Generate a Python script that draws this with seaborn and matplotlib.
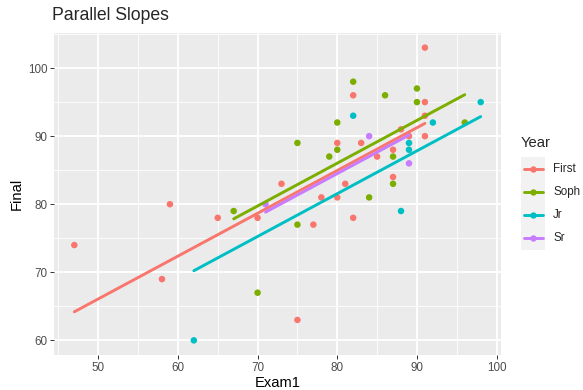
import numpy as np
import pandas as pd
import matplotlib
matplotlib.use("Agg")
import matplotlib.pyplot as plt
from matplotlib.ticker import MultipleLocator
from matplotlib.patches import Rectangle
import seaborn as sns

# data
first_exam1 = [47, 58, 59, 65, 70, 73, 75, 77, 78, 80, 80, 81, 82, 82, 83, 85, 87, 87, 88, 89, 91, 91, 91, 91]
first_final = [74, 69, 80, 78, 78, 83, 63, 77, 81, 81, 89, 83, 78, 96, 89, 87, 84, 88, 91, 90, 90, 93, 95, 103]
soph_exam1 = [67, 70, 75, 75, 79, 80, 80, 82, 84, 86, 87, 87, 90, 90, 96]
soph_final = [79, 67, 77, 89, 87, 88, 92, 98, 81, 96, 83, 87, 95, 97, 92]
jr_exam1 = [62, 82, 88, 89, 89, 92, 98]
jr_final = [60, 93, 79, 88, 89, 92, 95]
sr_exam1 = [71, 84, 89]
sr_final = [80, 90, 86]

years = ["First", "Soph", "Jr", "Sr"]
colors = ["#F8766D", "#7CAE00", "#00BFC4", "#C77CFF"]
palette = dict(zip(years, colors))

df = pd.concat([
    pd.DataFrame({"Exam1": first_exam1, "Final": first_final, "Year": "First"}),
    pd.DataFrame({"Exam1": soph_exam1, "Final": soph_final, "Year": "Soph"}),
    pd.DataFrame({"Exam1": jr_exam1, "Final": jr_final, "Year": "Jr"}),
    pd.DataFrame({"Exam1": sr_exam1, "Final": sr_final, "Year": "Sr"}),
], ignore_index=True)

# parallel slopes model: Final ~ Exam1 + Year
X = np.column_stack([df["Exam1"]] + [(df["Year"] == y).astype(float) for y in years])
coef = np.linalg.lstsq(X, df["Final"].to_numpy(float), rcond=None)[0]
fits = []
for i, y in enumerate(years):
    sub = df[df["Year"] == y]
    xs = np.array([sub["Exam1"].min(), sub["Exam1"].max()], dtype=float)
    fits.append(pd.DataFrame({"Exam1": xs, "Final": coef[0] * xs + coef[i + 1], "Year": y}))
fit = pd.concat(fits, ignore_index=True)

sns.set_theme(style="darkgrid", rc={
    "axes.facecolor": "#EBEBEB",
    "grid.color": "white",
    "axes.edgecolor": "#EBEBEB",
})
plt.rcParams["font.family"] = ["Liberation Sans", "DejaVu Sans"]

fig = plt.figure(figsize=(5.83, 3.9), dpi=100)
ax = fig.add_axes([54 / 583, 1 - 355 / 390, 447 / 583, 322 / 390])

sns.scatterplot(data=df, x="Exam1", y="Final", hue="Year", palette=palette,
                hue_order=years, s=22, linewidth=0, legend=False, ax=ax, zorder=3)
sns.lineplot(data=fit, x="Exam1", y="Final", hue="Year", palette=palette,
             hue_order=years, linewidth=2.1, legend=False, ax=ax, zorder=4)

ax.set_xlim(44.45, 100.55)
ax.set_ylim(57.85, 105.15)
ax.xaxis.set_major_locator(MultipleLocator(10))
ax.yaxis.set_major_locator(MultipleLocator(10))
ax.xaxis.set_minor_locator(MultipleLocator(5))
ax.yaxis.set_minor_locator(MultipleLocator(5))
ax.grid(which="major", color="white", linewidth=1.3)
ax.grid(which="minor", color="white", linewidth=0.6)
ax.set_axisbelow(True)
for s in ax.spines.values():
    s.set_visible(False)
ax.tick_params(which="major", length=2.7, width=0.7, color="#333333",
               labelsize=8.4, labelcolor="#4D4D4D", pad=2, bottom=True, left=True)
ax.tick_params(which="minor", length=0, bottom=False, left=False)
ax.set_xlabel("Exam1", fontsize=10.6, color="black", labelpad=2)
ax.set_ylabel("Final", fontsize=10.6, color="black", labelpad=3)

fig.text(52 / 583, 1 - 15 / 390, "Parallel Slopes", fontsize=12.7, ha="left", va="center")

# ggplot style legend
fig.text(521 / 583, 1 - 143 / 390, "Year", fontsize=10.6, ha="left", va="center")
fig.patches.append(Rectangle((521 / 583, 1 - 250 / 390), 24 / 583, 93 / 390,
                             transform=fig.transFigure, facecolor="#F2F2F2",
                             edgecolor="none", zorder=0))
for i, (y, c) in enumerate(zip(years, colors)):
    yc = 1 - (169 + 23 * i) / 390
    fig.add_artist(plt.Line2D([523.5 / 583, 542.5 / 583], [yc, yc], color=c,
                              linewidth=2.1, marker=None, transform=fig.transFigure))
    fig.add_artist(plt.Line2D([533 / 583], [yc], color=c, marker="o", markersize=4.6,
                              markeredgewidth=0, linestyle="none", transform=fig.transFigure))
    fig.text(553 / 583, yc, y, fontsize=8.4, ha="left", va="center")

fig.savefig("out.png", dpi=100)
